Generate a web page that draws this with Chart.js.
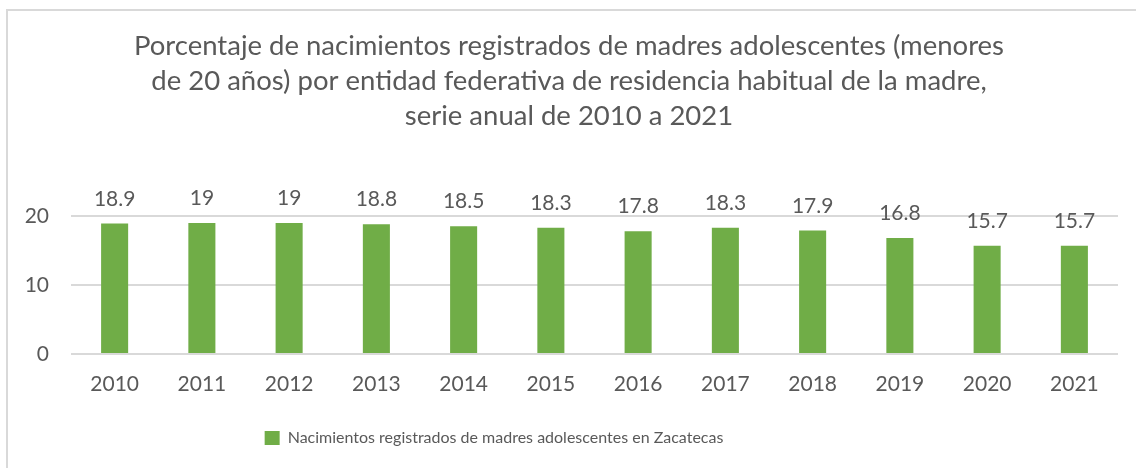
<!DOCTYPE html>
<html>
<head>
<meta charset="utf-8">
<script src="https://cdn.jsdelivr.net/npm/chart.js@4.4.1/dist/chart.umd.min.js"></script>
<style>
  html, body { margin: 0; padding: 0; background: #ffffff; }
  #wrap { position: relative; width: 1136px; height: 468px; overflow: hidden; }
  #frame { position: absolute; left: 6px; top: 9px; width: 1200px; height: 500px;
           border-left: 2px solid #d9d9d9; border-top: 2px solid #d9d9d9; box-sizing: border-box; }
  canvas { position: absolute; left: 0; top: 0; }
</style>
</head>
<body>
<div id="wrap">
  <div id="frame"></div>
  <canvas id="chart" width="1136" height="468"></canvas>
</div>
<script>
// Años de la serie
const years = ['2010', '2011', '2012', '2013', '2014', '2015', '2016', '2017', '2018', '2019', '2020', '2021'];
// Porcentaje de nacimientos de madres menores de 20 años, Zacatecas
const porcentajes = [18.9, 19, 19, 18.8, 18.5, 18.3, 17.8, 18.3, 17.9, 16.8, 15.7, 15.7];
// Marcas del eje vertical
const yTicks = [0, 10, 20];

const titleLines = [
  'Porcentaje de nacimientos registrados de madres adolescentes (menores',
  'de 20 años) por entidad federativa de residencia habitual de la madre,',
  'serie anual de 2010 a 2021'
];
const seriesLabel = 'Nacimientos registrados de madres adolescentes en Zacatecas';

const FONT = 'Lato, Calibri, Carlito, sans-serif';
const TEXT = '#595959';
const GREEN = '#70ad47';

// Etiquetas de valor encima de cada barra
const valueLabels = {
  id: 'valueLabels',
  afterDatasetsDraw(chart) {
    const ctx = chart.ctx;
    const meta = chart.getDatasetMeta(0);
    const data = chart.data.datasets[0].data;
    ctx.save();
    ctx.font = '21px ' + FONT;
    ctx.fillStyle = TEXT;
    ctx.textAlign = 'center';
    ctx.textBaseline = 'alphabetic';
    meta.data.forEach((bar, i) => {
      ctx.fillText(String(data[i]), bar.x, bar.y - 18);
    });
    ctx.restore();
  }
};

// La leyenda va algo desplazada a la izquierda del centro
const legendShift = {
  id: 'legendShift',
  afterLayout(chart) {
    const lg = chart.legend;
    if (lg) { lg.left -= 75; lg.right -= 75; }
  }
};

new Chart(document.getElementById('chart'), {
  type: 'bar',
  data: {
    labels: years,
    datasets: [{
      label: seriesLabel,
      data: porcentajes,
      backgroundColor: GREEN,
      borderWidth: 0,
      barPercentage: 0.31,
      categoryPercentage: 1
    }]
  },
  options: {
    responsive: false,
    animation: false,
    devicePixelRatio: 1,
    layout: { padding: { left: 20, right: 18, top: 29, bottom: 12 } },
    plugins: {
      title: {
        display: true,
        text: titleLines,
        color: TEXT,
        font: { family: FONT, size: 27.5, weight: 'normal', lineHeight: 1.273 },
        padding: { top: 0, bottom: 82 }
      },
      legend: {
        display: true,
        position: 'bottom',
        labels: {
          color: TEXT,
          font: { family: FONT, size: 16 },
          boxWidth: 15,
          boxHeight: 14,
          padding: 10
        }
      },
      tooltip: { enabled: false }
    },
    scales: {
      x: {
        grid: { display: false, drawTicks: false },
        border: { display: false },
        ticks: { color: TEXT, font: { family: FONT, size: 21 }, padding: 18, maxRotation: 0 },
        afterFit(s) { s.height = 66; s.paddingLeft = 0; s.paddingRight = 0; }
      },
      y: {
        min: 0,
        max: 20,
        afterBuildTicks(s) { s.ticks = yTicks.map(v => ({ value: v })); },
        grid: { color: '#d9d9d9', lineWidth: 2, drawTicks: false },
        border: { display: false },
        ticks: { color: TEXT, font: { family: FONT, size: 21 }, padding: 22 },
        afterFit(s) { s.width = 51; }
      }
    }
  },
  plugins: [valueLabels, legendShift]
});
</script>
</body>
</html>
